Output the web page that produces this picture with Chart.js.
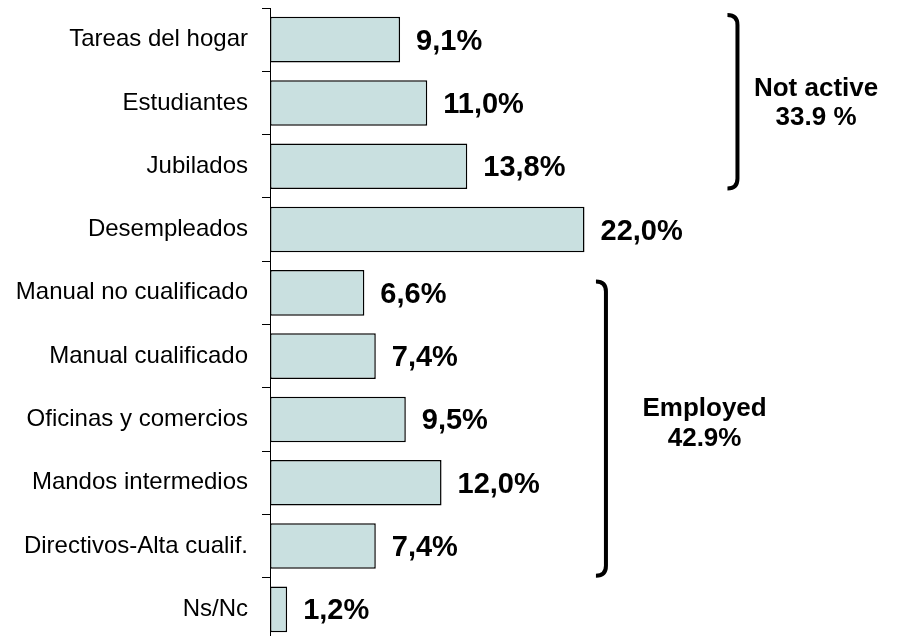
<!DOCTYPE html>
<html lang="es">
<head>
    <meta charset="UTF-8">
    <title>Situación laboral</title>
    <script src="https://cdn.jsdelivr.net/npm/chart.js"></script>
    <style>
        html, body {
            margin: 0;
            padding: 0;
            background: #ffffff;
            overflow: hidden;
        }
        #chart-container {
            position: relative;
            width: 899px;
            height: 641px;
        }
    </style>
</head>
<body>
    <div id="chart-container">
        <canvas id="situacionChart"></canvas>
    </div>

    <script>
        const categories = ['Tareas del hogar', 'Estudiantes', 'Jubilados', 'Desempleados',
            'Manual no cualificado', 'Manual cualificado', 'Oficinas y comercios',
            'Mandos intermedios', 'Directivos-Alta cualif.', 'Ns/Nc'];
        const percentages = [9.1, 11.0, 13.8, 22.0, 6.6, 7.4, 9.5, 12.0, 7.4, 1.2];
        const groupNames = ['Not active', 'Employed'];
        const groupTotals = ['33.9 %', '42.9%'];

        const FONT = '"Liberation Sans", Arial, sans-serif';

        // value labels after each bar, with decimal comma
        const valueLabels = {
            id: 'valueLabels',
            afterDatasetsDraw(chart) {
                const ctx = chart.ctx;
                const meta = chart.getDatasetMeta(0);
                ctx.save();
                ctx.font = 'bold 29px ' + FONT;
                ctx.fillStyle = '#000';
                ctx.textAlign = 'left';
                ctx.textBaseline = 'middle';
                meta.data.forEach(function(bar, i) {
                    const txt = percentages[i].toFixed(1).replace('.', ',') + '%';
                    ctx.fillText(txt, bar.x + 16, bar.y + 2);
                });
                ctx.restore();
            }
        };

        // brackets grouping the categories
        const brackets = {
            id: 'brackets',
            afterDraw(chart) {
                const ctx = chart.ctx;
                const x = chart.scales.x;
                const y = chart.scales.y;
                const groups = [
                    { xv: 32.7, from: -0.39, to: 2.35, tx: 38.2, ty: [0.77, 1.24] },
                    { xv: 23.5, from: 3.82, to: 8.47, tx: 30.4, ty: [5.83, 6.3] }
                ];
                ctx.save();
                groups.forEach(function(g, i) {
                    const px = x.getPixelForValue(g.xv);
                    const top = y.getPixelForValue(g.from);
                    const bot = y.getPixelForValue(g.to);
                    ctx.beginPath();
                    ctx.lineWidth = 4;
                    ctx.strokeStyle = '#000';
                    ctx.moveTo(px - 10, top);
                    ctx.quadraticCurveTo(px, top, px, top + 10);
                    ctx.lineTo(px, bot - 10);
                    ctx.quadraticCurveTo(px, bot, px - 10, bot);
                    ctx.stroke();

                    ctx.font = 'bold 26px ' + FONT;
                    ctx.fillStyle = '#000';
                    ctx.textAlign = 'center';
                    ctx.textBaseline = 'middle';
                    const tx = x.getPixelForValue(g.tx);
                    ctx.fillText(groupNames[i], tx, y.getPixelForValue(g.ty[0]));
                    ctx.fillText(groupTotals[i], tx, y.getPixelForValue(g.ty[1]));
                });
                ctx.restore();
            }
        };

        const ctx = document.getElementById('situacionChart').getContext('2d');
        new Chart(ctx, {
            type: 'bar',
            data: {
                labels: categories,
                datasets: [{
                    data: percentages,
                    backgroundColor: '#c9e0e0',
                    borderColor: '#000000',
                    borderWidth: 1.5,
                    borderSkipped: false,
                    categoryPercentage: 1.0,
                    barPercentage: 0.72
                }]
            },
            options: {
                indexAxis: 'y',
                responsive: true,
                maintainAspectRatio: false,
                animation: false,
                layout: { padding: { top: 8, left: 0, right: 0, bottom: 0 } },
                plugins: {
                    legend: { display: false },
                    tooltip: { enabled: false }
                },
                scales: {
                    x: {
                        display: false,
                        min: 0,
                        max: 44
                    },
                    y: {
                        afterFit: function(scale) {
                            scale.width = 270;
                            scale.paddingTop = 0;
                            scale.paddingBottom = 0;
                        },
                        grid: {
                            offset: true,
                            drawOnChartArea: false,
                            drawTicks: true,
                            tickLength: 8,
                            color: '#000'
                        },
                        border: { display: true, color: '#000', width: 1 },
                        ticks: {
                            color: '#000',
                            padding: 14,
                            font: { family: FONT, size: 24 }
                        }
                    }
                }
            },
            plugins: [valueLabels, brackets]
        });
    </script>
</body>
</html>
